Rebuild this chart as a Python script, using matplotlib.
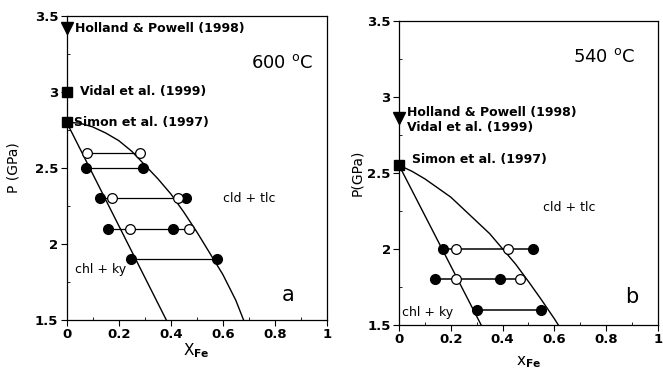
import matplotlib
matplotlib.use("Agg")
import matplotlib.pyplot as plt
from matplotlib.ticker import FuncFormatter, MultipleLocator

plt.rcParams['font.family'] = ['DejaVu Sans']
plt.rcParams['mathtext.fontset'] = 'dejavusans'

# === DATOS ===
# panel a (600 C)
a_ref_P = [3.42, 3.0, 2.8]          # Holland & Powell, Vidal, Simon
a_left_x = [0.0, 0.383]
a_left_P = [2.8, 1.5]
a_right_x = [0.0, 0.05, 0.1, 0.15, 0.2, 0.25, 0.3, 0.35, 0.4, 0.45, 0.5, 0.55, 0.6, 0.65, 0.68]
a_right_P = [2.80, 2.795, 2.77, 2.73, 2.68, 2.61, 2.52, 2.43, 2.33, 2.21, 2.08, 1.94, 1.80, 1.63, 1.50]
a_filled_x = [0.075, 0.293, 0.129, 0.46, 0.16, 0.408, 0.248, 0.578]
a_filled_P = [2.5, 2.5, 2.3, 2.3, 2.1, 2.1, 1.9, 1.9]
a_open_x = [0.077, 0.281, 0.174, 0.426, 0.242, 0.469]
a_open_P = [2.6, 2.6, 2.3, 2.3, 2.1, 2.1]

# panel b (540 C)
b_ref_P = [2.86, 2.55]              # Holland & Powell / Vidal, Simon
b_left_x = [0.0, 0.317]
b_left_P = [2.55, 1.5]
b_right_x = [0.0, 0.05, 0.1, 0.15, 0.2, 0.25, 0.3, 0.35, 0.4, 0.45, 0.5, 0.55, 0.6, 0.615]
b_right_P = [2.55, 2.51, 2.46, 2.40, 2.34, 2.26, 2.18, 2.10, 2.00, 1.90, 1.785, 1.665, 1.54, 1.50]
b_filled_x = [0.169, 0.519, 0.139, 0.39, 0.30, 0.547]
b_filled_P = [2.0, 2.0, 1.8, 1.8, 1.6, 1.6]
b_open_x = [0.219, 0.42, 0.219, 0.468]
b_open_P = [2.0, 2.0, 1.8, 1.8]

x_ticks = [0, 0.2, 0.4, 0.6, 0.8, 1]
y_ticks = [1.5, 2, 2.5, 3, 3.5]


def fmt(v, pos):
    return f"{v:g}"


def tie_lines(ax, fx, fP, ox, oP, lw=0.9):
    xs = fx + ox
    Ps = fP + oP
    for P in sorted(set(Ps)):
        row = [x for x, p in zip(xs, Ps) if p == P]
        ax.plot([min(row), max(row)], [P, P], color='black', lw=lw, zorder=2)


def setup(ax, ylab, ypad):
    ax.set_xlim(0, 1)
    ax.set_ylim(1.5, 3.5)
    ax.set_xticks(x_ticks)
    ax.set_yticks(y_ticks)
    ax.yaxis.set_minor_locator(MultipleLocator(0.25))
    ax.xaxis.set_minor_locator(MultipleLocator(0.1))
    ax.xaxis.set_major_formatter(FuncFormatter(fmt))
    ax.yaxis.set_major_formatter(FuncFormatter(fmt))
    ax.tick_params(which='major', direction='out', length=4, width=0.8,
                   labelsize=9.5, pad=2)
    ax.tick_params(which='minor', direction='in', length=2, width=0.6)
    for lab in ax.get_xticklabels() + ax.get_yticklabels():
        lab.set_fontweight('bold')
    for s in ax.spines.values():
        s.set_linewidth(0.9)
    ax.set_ylabel(ylab, fontsize=10, labelpad=ypad)


fig = plt.figure(figsize=(6.63, 3.70), dpi=100)
ax1 = fig.add_axes([0.1006, 0.135, 0.3924, 0.822])
ax2 = fig.add_axes([0.6018, 0.122, 0.3906, 0.822])

# --- panel a ---
setup(ax1, "P (GPa)", 10)
ax1.set_xlabel(r"X$_{\mathbf{Fe}}$", fontsize=11, labelpad=0)
ax1.plot(a_left_x, a_left_P, color='black', lw=1.0, zorder=2)
ax1.plot(a_right_x, a_right_P, color='black', lw=1.0, zorder=2)
tie_lines(ax1, a_filled_x, a_filled_P, a_open_x, a_open_P)
ax1.plot(a_filled_x, a_filled_P, 'o', ms=7, mfc='black', mec='black', zorder=3)
ax1.plot(a_open_x, a_open_P, 'o', ms=7, mfc='white', mec='black', mew=0.9, zorder=3)
ax1.plot([0], [a_ref_P[0]], 'v', ms=8, color='black', clip_on=False, zorder=4)
ax1.plot([0, 0], a_ref_P[1:], 's', ms=6.5, color='black', clip_on=False, zorder=4)
ax1.text(0.032, a_ref_P[0], "Holland & Powell (1998)", fontsize=9, va='center', fontweight='bold')
ax1.text(0.05, a_ref_P[1], "Vidal et al. (1999)", fontsize=9, va='center', fontweight='bold')
ax1.text(0.028, a_ref_P[2], "Simon et al. (1997)", fontsize=9, va='center', fontweight='bold')
ax1.text(0.947, 3.19, r"600 $^{\mathrm{o}}$C", fontsize=13, ha='right', va='center')
ax1.text(0.60, 2.30, "cld + tlc", fontsize=9, va='center')
ax1.text(0.032, 1.83, "chl + ky", fontsize=9, va='center')
ax1.text(0.85, 1.665, "a", fontsize=15, ha='center', va='center')

# --- panel b ---
setup(ax2, "P(GPa)", 2)
ax2.set_xlabel(r"x$_{\mathbf{Fe}}$", fontsize=11, labelpad=6)
ax2.plot(b_left_x, b_left_P, color='black', lw=1.0, zorder=2)
ax2.plot(b_right_x, b_right_P, color='black', lw=1.0, zorder=2)
tie_lines(ax2, b_filled_x, b_filled_P, b_open_x, b_open_P, lw=1.1)
ax2.plot(b_filled_x, b_filled_P, 'o', ms=7, mfc='black', mec='black', zorder=3)
ax2.plot(b_open_x, b_open_P, 'o', ms=7, mfc='white', mec='black', mew=0.9, zorder=3)
ax2.plot([0], [b_ref_P[0]], 'v', ms=8, color='black', clip_on=False, zorder=4)
ax2.plot([0], [b_ref_P[1]], 's', ms=6.5, color='black', clip_on=False, zorder=4)
ax2.text(0.031, 2.895, "Holland & Powell (1998)", fontsize=9, va='center', fontweight='bold')
ax2.text(0.031, 2.796, "Vidal et al. (1999)", fontsize=9, va='center', fontweight='bold')
ax2.text(0.05, 2.585, "Simon et al. (1997)", fontsize=9, va='center', fontweight='bold')
ax2.text(0.91, 3.26, r"540 $^{\mathrm{o}}$C", fontsize=13, ha='right', va='center')
ax2.text(0.556, 2.27, "cld + tlc", fontsize=9, va='center')
ax2.text(0.012, 1.58, "chl + ky", fontsize=9, va='center')
ax2.text(0.90, 1.68, "b", fontsize=15, ha='center', va='center')

fig.savefig("out.png", dpi=100)
